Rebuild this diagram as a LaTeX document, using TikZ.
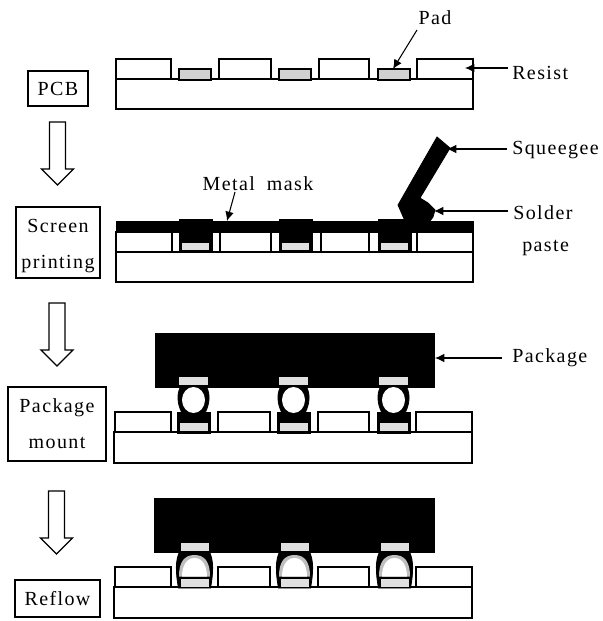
\documentclass[tikz,border=0pt]{standalone}
\usepackage{fontspec}
\setmainfont[LetterSpace=7]{Liberation Serif}
\usetikzlibrary{arrows.meta}
\tikzset{
  x=0.75pt,y=-0.75pt,
  layer/.style={draw=black,line width=1.1pt,fill=white},
  padfill/.style={draw=black,line width=1.1pt,fill=black!18},
  padplain/.style={draw=none,fill=black!12},
  inkfill/.style={draw=black,fill=black,line width=0.6pt},
  stepbox/.style={draw=black,line width=1.1pt,fill=white,inner sep=0pt,align=center,font=\fontsize{15pt}{27pt}\selectfont},
  lbl/.style={inner sep=0pt,font=\fontsize{15pt}{18pt}\selectfont},
  callout/.style={draw=black,line width=0.8pt,-{Latex[length=7pt,width=6.5pt]}},
  downarrow/.style={draw=black,line width=1pt,fill=white},
}
\newcommand{\flowarrow}[2]{% x centre, top y
  \path[downarrow] (#1-8,#2) -- (#1+8,#2) -- (#1+8,#2+47) -- (#1+16,#2+47) -- (#1,#2+63) -- (#1-16,#2+47) -- (#1-8,#2+47) -- cycle;}
\begin{document}
\begin{tikzpicture}
\useasboundingbox (0,0) rectangle (603,621);
\fill[white] (0,0) rectangle (603,621);

% step boxes
\node[stepbox,minimum width=45pt,minimum height=26pt] (pcb) at (58,88.5) {PCB};
\node[stepbox,minimum width=63pt,minimum height=53pt] (screen) at (58,242.5) {\rule{0pt}{15pt}Screen\\printing};
\node[stepbox,minimum width=73.5pt,minimum height=55.5pt] (mount) at (57,424) {Package\\mount};
\node[stepbox,minimum width=64pt,minimum height=27.5pt] (reflow) at (57.5,598.5) {Reflow};
\flowarrow{57.5}{122}
\flowarrow{57}{303}
\flowarrow{56.5}{491}

% panel 1
\path[layer] (116,79) rectangle (473,109);
\foreach \a/\b/\t in {116/171/59,219/271/59,319/369/59,417/473/59}
  \path[layer] (\a,\t) rectangle (\b,79);
\foreach \a/\b in {179/211,279/311,378/410}
  \path[padfill] (\a,69) rectangle (\b,80);
\node[lbl] (padl) at (435,18) {Pad};
\node[lbl,anchor=west] (resl) at (512,73) {Resist};
\coordinate (padt) at (393,69);
\coordinate (rest) at (465,68);
\draw[callout] (417,30) -- (padt);
\draw[callout] (508,68) -- (rest);

% panel 2
\path[layer] (116,252) rectangle (473,282);
\foreach \a/\b in {116/172,220/271,321/369,417/473}
  \path[layer] (\a,232) rectangle (\b,252);
\path[inkfill] (116,221) rectangle (473,232);
\foreach \a/\b in {179/212,279/312,378/411}{
  \path[inkfill] (\a,219.5) rectangle (\b,252.5);
  \path[padplain] (\a+3,243) rectangle (\b-3,250);
}
\path[inkfill] (437,137) -- (450,148) -- (420,198) -- (428,203) -- (435,210) -- (433,217) -- (430,221) -- (405,221) -- (398,205) -- cycle;
\node[lbl] (metal) at (258,184) {Metal\hspace{0.6em}mask};
\node[lbl,anchor=west] (sq) at (512,150) {Squeegee};
\node[lbl,anchor=west] (sol) at (513,213) {Solder};
\node[lbl,anchor=west] (pas) at (522,248) {paste};
\coordinate (mt) at (227,221);
\coordinate (sqt) at (447,149);
\coordinate (sot) at (434,211);
\draw[callout] (235,192) -- (mt);
\draw[callout] (507,149) -- (sqt);
\draw[callout] (508,211) -- (sot);

% panel 3
\path[layer] (114,432) rectangle (472,463);
\foreach \a/\b in {115/171,218/270,318/369,416/472}
  \path[layer] (\a,412) rectangle (\b,432);
\path[inkfill] (155,333) rectangle (434,387);
\foreach \c in {193.5,293.5,393.5}{
  \path[inkfill] (\c-16.5,412) rectangle (\c+16.5,433);
  \path[padplain] (\c-14,423) rectangle (\c+14,431);
  \path[padplain] (\c-14.5,377) rectangle (\c+14.5,385);
  \path[inkfill] (\c-13,387) .. controls (\c-17,394) and (\c-16,404) .. (\c-12,412) -- (\c+12,412) .. controls (\c+16,404) and (\c+17,394) .. (\c+13,387) -- cycle;
  \fill[white] (\c,400) ellipse [x radius=11.5,y radius=13];
}
\node[lbl,anchor=west] (pkg) at (512,358) {Package};
\coordinate (pkt) at (435,358);
\draw[callout] (502,358) -- (pkt);

% panel 4
\path[layer] (114,587) rectangle (472,618);
\foreach \a/\b in {115/171,218/270,318/369,416/472}
  \path[layer] (\a,567) rectangle (\b,587);
\path[inkfill] (154,498) rectangle (434,552);
\foreach \c in {194.5,294.5,394.5}{
  \path[inkfill] (\c-15,552) .. controls (\c-19,560) and (\c-19,572) .. (\c-16,588) -- (\c+16,588) .. controls (\c+19,572) and (\c+19,560) .. (\c+15,552) -- cycle;
  \path[fill=black!25] (\c-15.5,576.5) .. controls (\c-15.5,563) and (\c-11,555) .. (\c,555) .. controls (\c+11,555) and (\c+15.5,563) .. (\c+15.5,576.5) -- cycle;
  \path[fill=white] (\c-12.5,576.5) .. controls (\c-12.5,566) and (\c-8,558) .. (\c,558) .. controls (\c+8,558) and (\c+12.5,566) .. (\c+12.5,576.5) -- cycle;
  \path[padplain] (\c-14,543) rectangle (\c+14,551);
  \path[padplain] (\c-14,579) rectangle (\c+14,586.5);
}
\end{tikzpicture}
\end{document}
